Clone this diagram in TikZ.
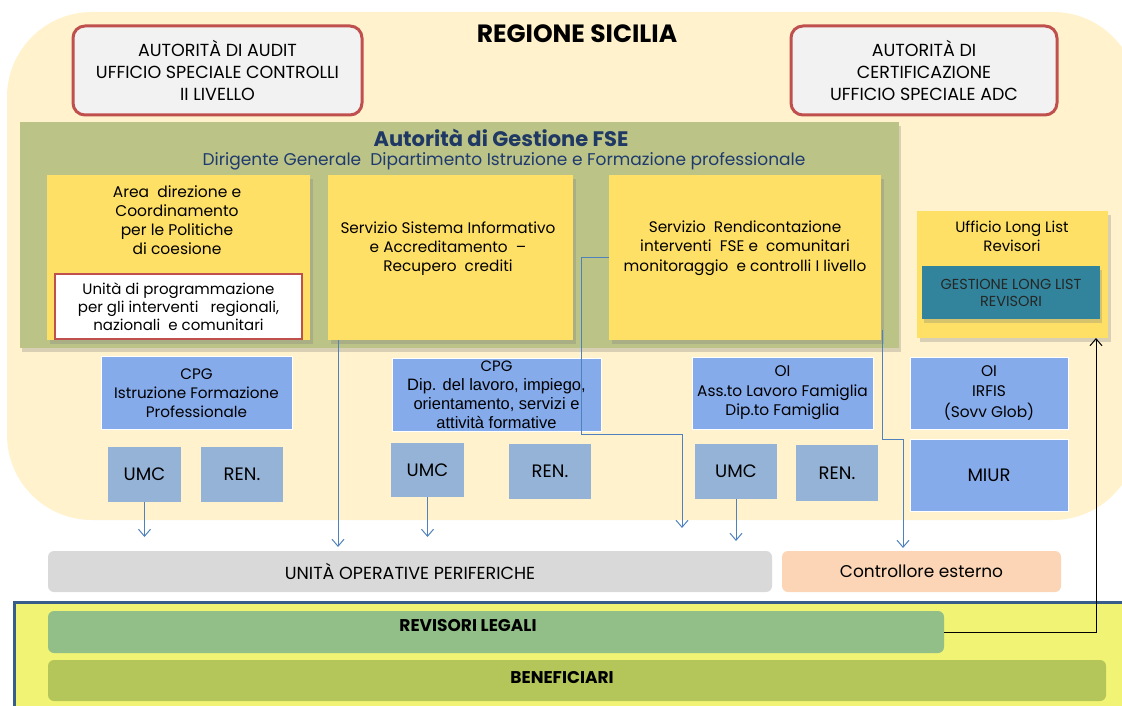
\documentclass[tikz,border=0pt]{standalone}
\usepackage{fontspec}
\setmainfont{Poppins}
\newfontfamily\altfont{Liberation Sans}
\usetikzlibrary{arrows.meta,shadows}

\definecolor{regbg}{HTML}{FFF2CC}
\definecolor{adggreen}{HTML}{BBC386}
\definecolor{boxyellow}{HTML}{FFE066}
\definecolor{redline}{HTML}{C0504D}
\definecolor{auditgrey}{HTML}{F2F2F2}
\definecolor{cpgblue}{HTML}{86ABEB}
\definecolor{umcblue}{HTML}{95B3D7}
\definecolor{tealbox}{HTML}{31849B}
\definecolor{uopgrey}{HTML}{D9D9D9}
\definecolor{ctrlorange}{HTML}{FBD5B5}
\definecolor{bandyellow}{HTML}{F1F374}
\definecolor{bandblue}{HTML}{385D8A}
\definecolor{revgreen}{HTML}{92BF88}
\definecolor{bengreen}{HTML}{B4C55A}
\definecolor{flowblue}{HTML}{4F81BD}
\definecolor{navy}{HTML}{1F3864}
\definecolor{subblue}{HTML}{1F3A6E}

\newcommand{\fsz}[2]{\fontsize{#1}{#2}\selectfont}

\tikzset{
    panel/.style={inner sep=0pt, outer sep=0pt, align=center},
    redbox/.style={panel, fill=auditgrey, draw=redline, line width=3pt, rounded corners=12pt},
    ybox/.style={panel, fill=boxyellow, drop shadow={opacity=0.3, shadow xshift=3pt, shadow yshift=-4pt}},
    cpgbox/.style={panel, fill=cpgblue, draw=white, line width=0.8pt},
    umcbox/.style={panel, fill=umcblue, font=\fsz{18}{21}},
    strip/.style={panel, rounded corners=6pt},
    flow/.style={draw=flowblue, line width=1pt, -{Straight Barb[length=7pt, width=12pt]}},
    backflow/.style={draw=black, line width=1pt, -{Straight Barb[length=7pt, width=12pt]}}
}

\begin{document}
\begin{tikzpicture}[x=1pt, y=-1pt]
    \clip (0,0) rectangle (1122,706);

    % Regione Sicilia
    \fill[regbg, rounded corners=85pt] (7,12) rectangle (1138,520);
    \node[font=\bfseries\fsz{25}{28}] (regione) at (577,34) {REGIONE SICILIA};

    \node[redbox, minimum width=289, minimum height=89, font=\fsz{17.5}{22}] (audit) at (217.5,70.5)
        {AUTORITÀ DI AUDIT\\UFFICIO SPECIALE CONTROLLI\\II LIVELLO};
    \node[redbox, minimum width=266, minimum height=89, font=\fsz{17.5}{22}] (certif) at (924,70.5)
        {AUTORITÀ DI\\CERTIFICAZIONE\\UFFICIO SPECIALE ADC};

    % Autorita di Gestione
    \node[panel, fill=adggreen, minimum width=879, minimum height=226,
        drop shadow={opacity=0.3, shadow xshift=2pt, shadow yshift=-4pt}] (adg) at (459.5,235) {};
    \node[font=\bfseries\fsz{21}{24}, text=navy] (adgtitle) at (501,138) {Autorità di Gestione FSE};
    \node[font=\fsz{17}{20}, text=subblue] (adgsub) at (504,161)
        {Dirigente Generale\ \ Dipartimento Istruzione e Formazione professionale};

    \node[ybox, minimum width=263, minimum height=165] (area) at (178.5,257.5) {};
    \node[panel, font=\fsz{15.5}{19}] (areatext) at (177,220)
        {Area\ \ direzione e\\Coordinamento\\per le Politiche\\di coesione};
    \node[panel, fill=white, draw=redline, line width=2.5pt, minimum width=247, minimum height=65,
        font=\fsz{15}{18}] (unita) at (178.5,306.5)
        {Unità di programmazione\\per gli interventi\ \ \ regionali,\\nazionali\ \ e comunitari};

    \node[ybox, minimum width=245, minimum height=165] (serv) at (450.5,257.5) {};
    \node[panel, font=\fsz{15.3}{19}] (servtext) at (448,249)
        {Servizio Sistema Informativo\\e Accreditamento\ \ --\\Recupero\ \ crediti};

    \node[ybox, minimum width=272, minimum height=165] (rend) at (745,257.5) {};
    \node[panel, font=\fsz{15.3}{19.5}] (rendtext) at (745,248)
        {Servizio\ \ Rendicontazione\\interventi\ \ FSE e\ \ comunitari\\monitoraggio\ \ e controlli I livello};

    \node[ybox, minimum width=191, minimum height=127] (llist) at (1012.5,274.5) {};
    \node[panel, font=\fsz{15}{19}] (llisttext) at (1012,236) {Ufficio Long List\\Revisori};
    \node[panel, fill=tealbox, minimum width=178, minimum height=53, font=\fsz{14.5}{17},
        text=black!85, drop shadow={opacity=0.3, shadow xshift=2pt, shadow yshift=-4pt}] (gestll) at (1011,292.5)
        {GESTIONE LONG LIST\\REVISORI};

    % organismi
    \node[cpgbox, minimum width=191, minimum height=73, font=\fsz{15.2}{19}] (cpgA) at (196.5,393)
        {CPG\\Istruzione Formazione\\Professionale};
    \node[umcbox, minimum width=73, minimum height=55] (umcA) at (144.5,474.5) {UMC};
    \node[umcbox, minimum width=82, minimum height=55] (renA) at (242,474.5) {REN.};

    \node[cpgbox, minimum width=209, minimum height=73, font=\fsz{15}{19}] (cpgB) at (496.5,394.5)
        {CPG\\{\altfont\fontsize{16.5}{19}\selectfont Dip. del lavoro, impiego,}\\
        {\altfont\fontsize{16.5}{19}\selectfont orientamento, servizi e}\\
        {\altfont\fontsize{16.5}{19}\selectfont attività formative}};
    \node[umcbox, minimum width=73, minimum height=54] (umcB) at (427.5,470) {UMC};
    \node[umcbox, minimum width=82, minimum height=55] (renB) at (550,471.5) {REN.};

    \node[cpgbox, minimum width=181, minimum height=72, font=\fsz{15.4}{19.5}] (oiA) at (782.5,393)
        {OI\\Ass.to Lavoro Famiglia\\Dip.to Famiglia};
    \node[umcbox, minimum width=82, minimum height=55] (umcC) at (736,471.5) {UMC};
    \node[umcbox, minimum width=82, minimum height=56] (renC) at (837,473) {REN.};

    \node[cpgbox, minimum width=158, minimum height=72, font=\fsz{15.4}{20.5}] (oiB) at (989,393)
        {OI\\IRFIS\\(Sovv Glob)};
    \node[cpgbox, minimum width=158, minimum height=72, font=\fsz{18}{21}] (miur) at (989,475) {MIUR};

    % livello periferico
    \node[strip, fill=uopgrey, minimum width=724, minimum height=41, font=\fsz{17.5}{20}] (uop) at (410,571.5)
        {UNITÀ OPERATIVE PERIFERICHE};
    \node[strip, fill=ctrlorange, minimum width=279, minimum height=41, font=\fsz{17}{20}] (ctrl) at (921.5,571.5)
        {Controllore esterno};

    \draw[line width=3pt, draw=bandblue, fill=bandyellow] (14,602) rectangle (1150,730);
    \node[strip, fill=revgreen, minimum width=896, minimum height=42] (revis) at (496,632) {};
    \node[font=\bfseries\fsz{17}{20}] (revistext) at (468,626) {REVISORI LEGALI};
    \node[strip, fill=bengreen, minimum width=1058, minimum height=41] (benef) at (577,680.5) {};
    \node[font=\bfseries\fsz{17}{20}] (beneftext) at (562,678) {BENEFICIARI};

    % collegamenti
    \coordinate (tipA) at (144.5,537);
    \coordinate (tipB) at (338,547);
    \coordinate (bendC) at (581,434);
    \coordinate (tipC) at (682,528);
    \coordinate (tipD) at (427.5,537);
    \coordinate (tipE) at (736,541);
    \coordinate (bendF) at (903,439);
    \coordinate (tipF) at (903,548);

    \draw[flow] (umcA) -- (tipA);
    \draw[flow] (serv.south -| tipB) -- (tipB);
    \draw[flow] (rend.west) -| (bendC) -| (tipC);
    \draw[flow] (umcB) -- (tipD);
    \draw[flow] (umcC) -- (tipE);
    \draw[flow] ([xshift=1pt, yshift=10pt]rend.south east) |- (bendF) -- (tipF);
    \draw[backflow] (revis.east) -| ([xshift=-12pt]llist.south east);
\end{tikzpicture}
\end{document}
